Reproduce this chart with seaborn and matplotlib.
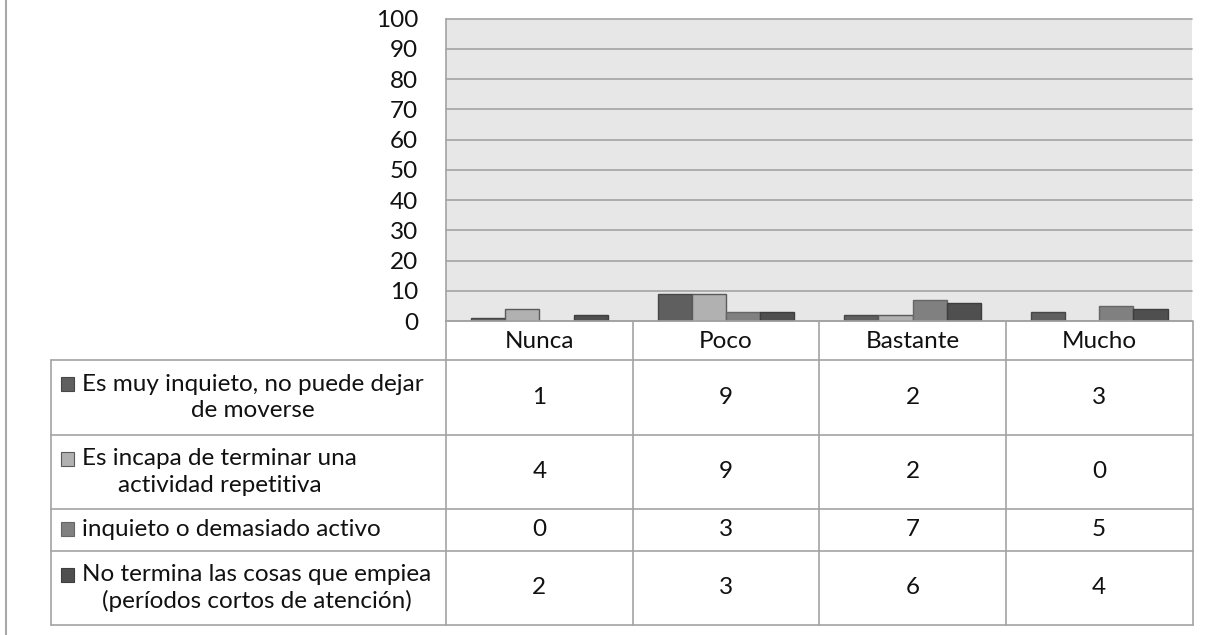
import matplotlib
matplotlib.use("Agg")
import matplotlib.pyplot as plt
import matplotlib.transforms as mtransforms
from matplotlib.patches import Rectangle
import pandas as pd
import seaborn as sns

# Datos del grafico
categorias = ["Nunca", "Poco", "Bastante", "Mucho"]
series = [
    "Es muy inquieto, no puede dejar\nde moverse",
    "Es incapa de terminar una\nactividad repetitiva",
    "inquieto o demasiado activo",
    "No termina las cosas que empiea\n(períodos cortos de atención)",
]
valores = [
    [1, 9, 2, 3],
    [4, 9, 2, 0],
    [0, 3, 7, 5],
    [2, 3, 6, 4],
]
colores = ["#5f5f5f", "#b1b1b1", "#808080", "#4f4f4f"]
bordes = ["#474747", "#5a5a5a", "#666666", "#3e3e3e"]
yticks = list(range(0, 101, 10))

df = pd.DataFrame(
    [(s, c, v) for s, fila in zip(series, valores) for c, v in zip(categorias, fila)],
    columns=["serie", "categoria", "valor"],
)

W, H = 1219, 635
sns.set_style("white")
plt.rcParams["font.family"] = ["Lato", "DejaVu Sans"]
fs = 17.5
grid_c = "#a3a3a3"

fig = plt.figure(figsize=(W / 100, H / 100), dpi=100)

# capa de pixeles para la tabla
tab = fig.add_axes([0, 0, 1, 1])
tab.set_xlim(0, W)
tab.set_ylim(H, 0)
tab.axis("off")
tab.patch.set_visible(False)

x0, x1 = 446, 1192.5
y_top, y_zero = 18.7, 321
ax = fig.add_axes([x0 / W, 1 - y_zero / H, (x1 - x0) / W, (y_zero - y_top) / H])
ax.set_facecolor("#e7e7e7")

sns.barplot(data=df, x="categoria", y="valor", hue="serie", order=categorias,
            hue_order=series, palette=colores, width=0.733, saturation=1,
            linewidth=1, ax=ax, legend=False)
for cont, bc in zip(ax.containers, bordes):
    for bar in cont:
        bar.set_edgecolor(bc)

ax.set_xlim(-0.5, len(categorias) - 0.5)
ax.set_ylim(0, 100)
ax.set_yticks(yticks)
ax.set_yticklabels([str(t) for t in yticks], fontsize=fs, color="#111111")
ax.set_xlabel("")
ax.set_ylabel("")
ax.tick_params(axis="y", length=0, pad=20)
ax.tick_params(axis="x", length=0, pad=7, labelsize=fs, labelcolor="#111111")
ax.yaxis.grid(True, color=grid_c, lw=1.2)
for gl in ax.get_ygridlines():
    gl.set_clip_on(False)
ax.set_axisbelow(True)
for side in ["top", "right"]:
    ax.spines[side].set_visible(False)
for side in ["left", "bottom"]:
    ax.spines[side].set_color(grid_c)
    ax.spines[side].set_linewidth(1.2)

# tabla de datos
filas = [360, 435, 509, 551, 625]
tab_left = 51
mix = mtransforms.blended_transform_factory(ax.transData, tab.transData)
lw = 1.2
for y in filas:
    tab.plot([tab_left, x1], [y, y], color=grid_c, lw=lw)
tab.plot([tab_left, tab_left], [filas[0], filas[-1]], color=grid_c, lw=lw)
tab.plot([x0, x0], [y_zero, filas[-1]], color=grid_c, lw=lw)
tab.plot([x1, x1], [y_zero, filas[-1]], color=grid_c, lw=lw)
for i in range(1, len(categorias)):
    tab.plot([i - 0.5, i - 0.5], [y_zero, filas[-1]], color=grid_c, lw=lw,
             transform=mix)

line_px = 25
for k, (nombre, fila) in enumerate(zip(series, valores)):
    yc = (filas[k] + filas[k + 1]) / 2
    n = nombre.count("\n") + 1
    ysq = yc - (n - 1) / 2 * line_px - 1
    tab.add_patch(Rectangle((60.5, ysq - 7), 13.5, 14, facecolor=colores[k],
                            edgecolor=bordes[k], lw=0.8))
    tab.text(82, yc, nombre, ha="left", va="center", multialignment="center",
             fontsize=fs, linespacing=1.3, color="#111111")
    for i, v in enumerate(fila):
        tab.text(i, yc, str(v), ha="center", va="center", fontsize=fs,
                 color="#111111", transform=mix)

# borde exterior izquierdo
tab.plot([5.5, 5.5], [0, H], color="#a8a8a8", lw=1.5)

fig.savefig("out.png", dpi=100)
